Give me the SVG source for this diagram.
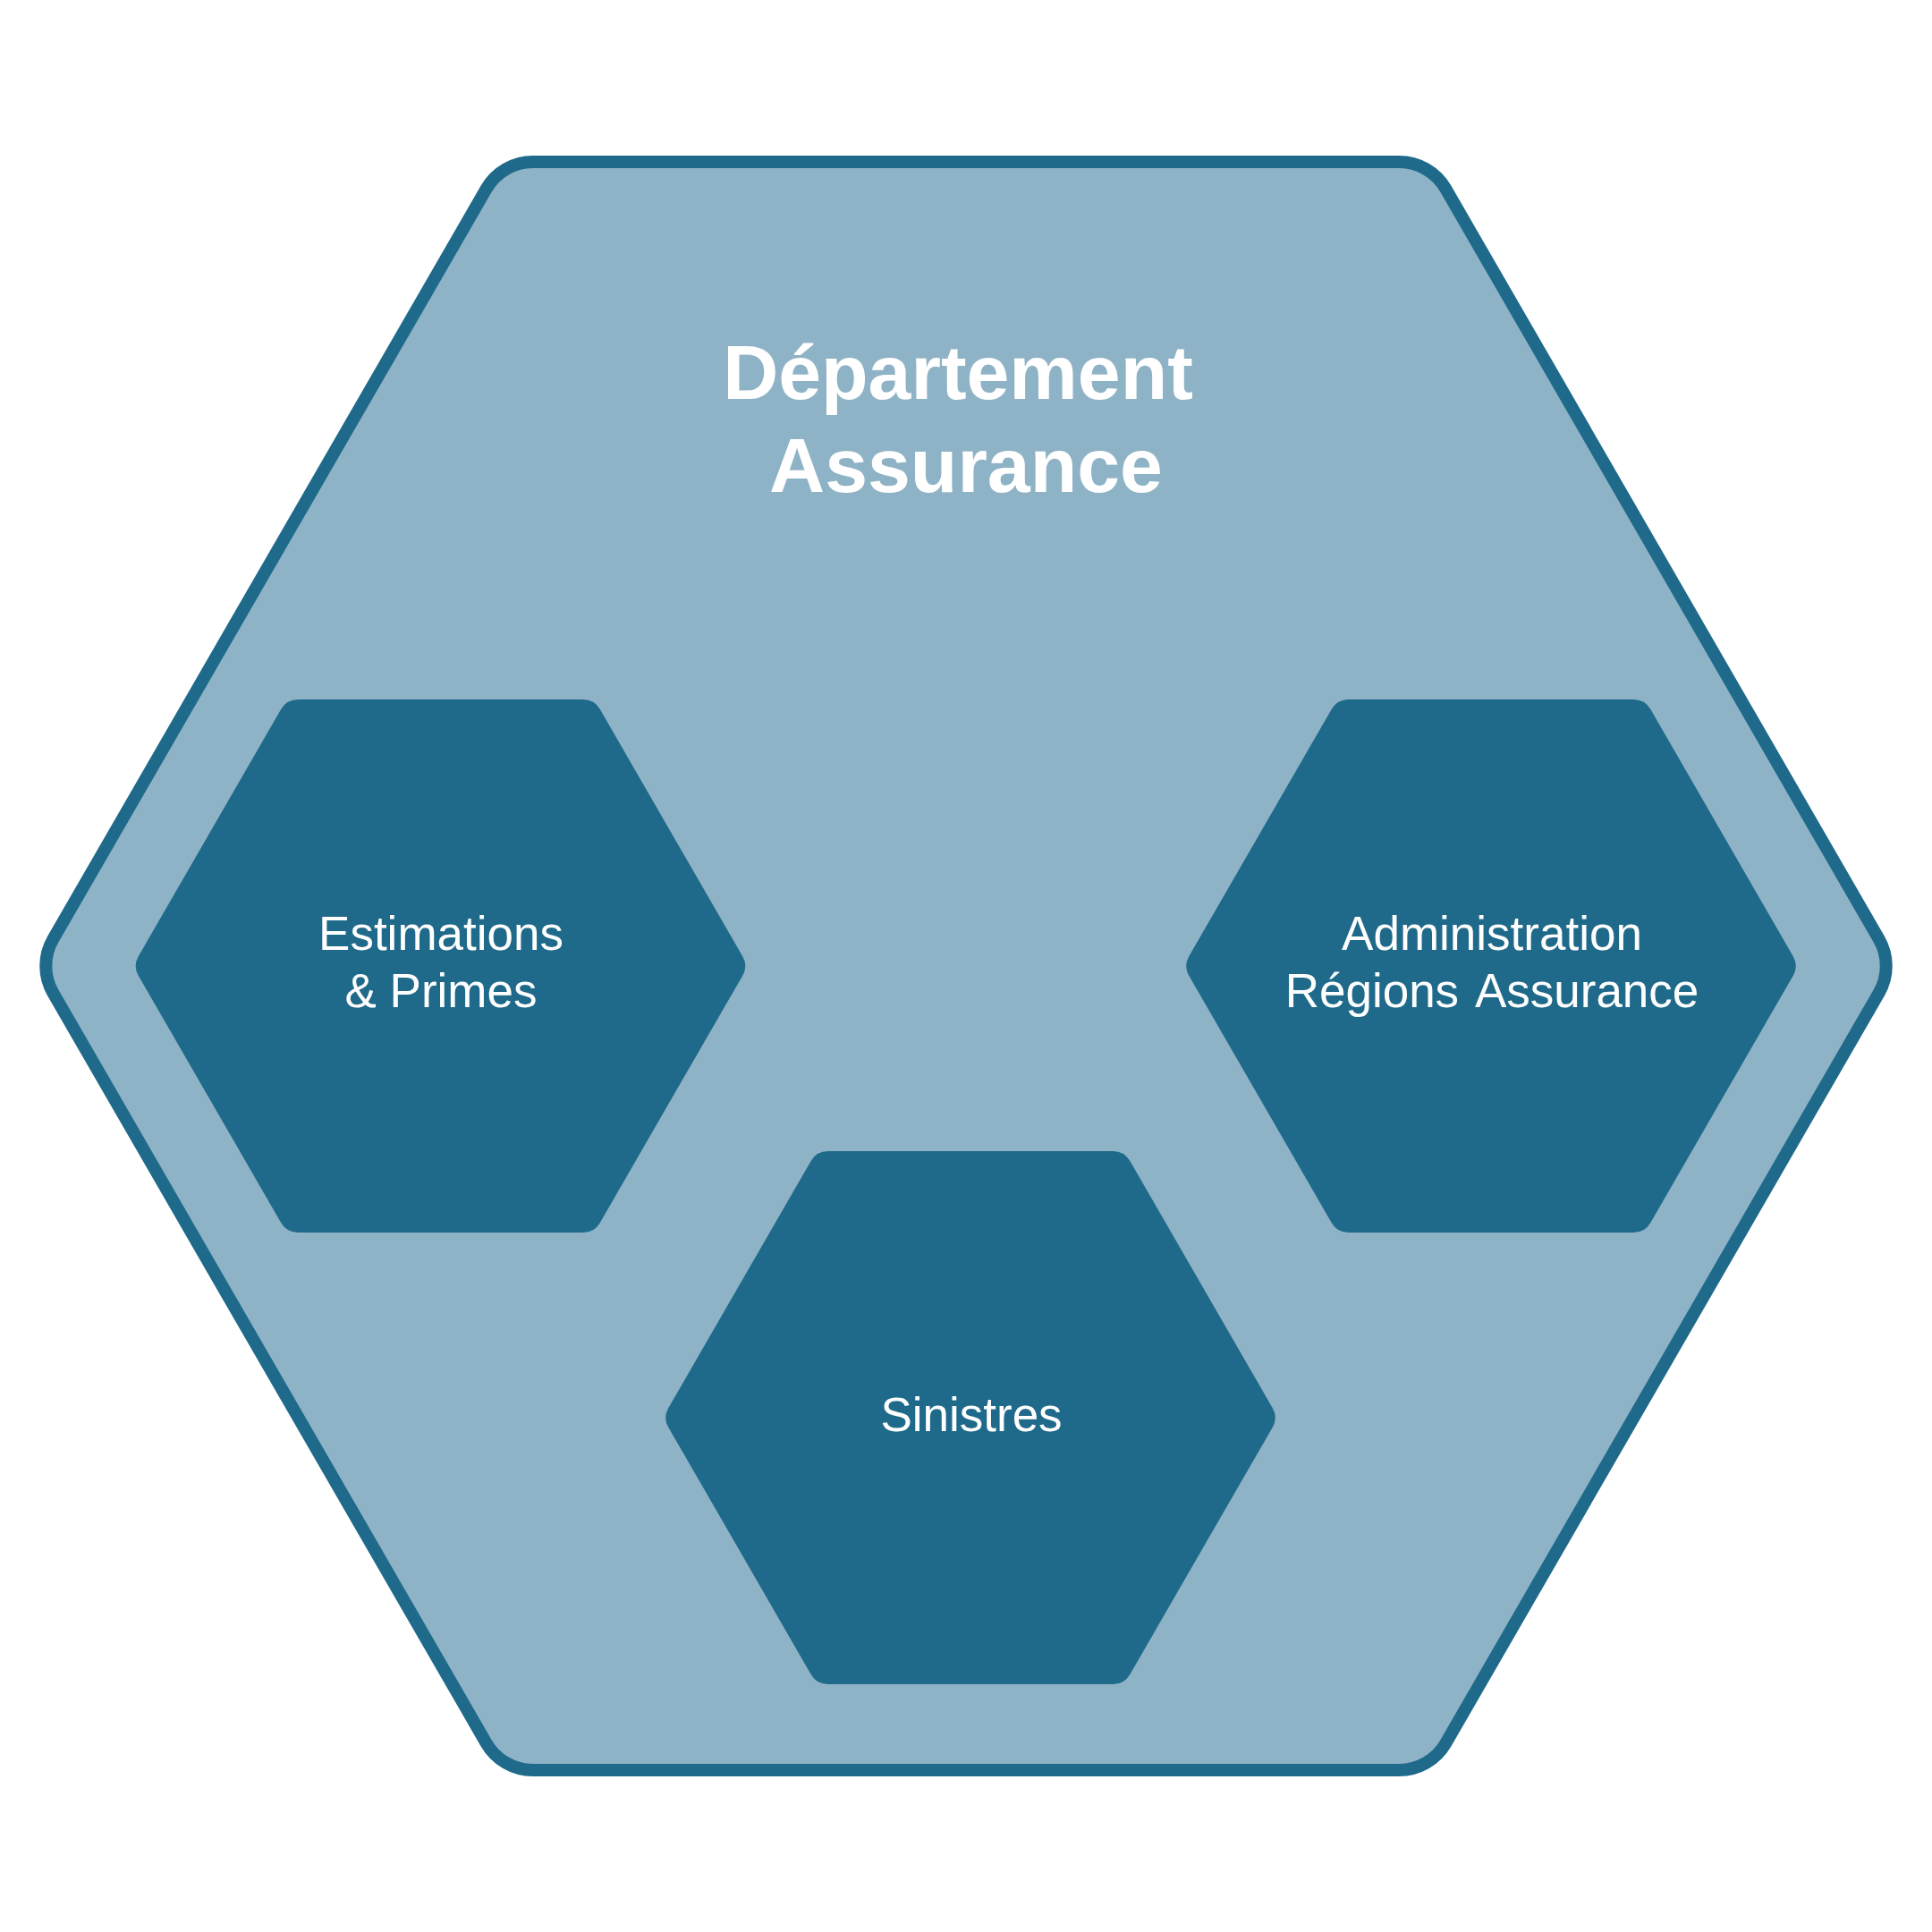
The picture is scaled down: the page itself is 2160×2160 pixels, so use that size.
<svg xmlns="http://www.w3.org/2000/svg" xmlns:xlink="http://www.w3.org/1999/xlink" width="2160" height="2160" viewBox="0 0 2160 2160">
  <style>
    .outer { fill: #8FB3C6; stroke: #1F6A8A; stroke-width: 14; }
    .inner { fill: #1F6A8A; }
    .title { font-family: "Liberation Sans", Arial, sans-serif; font-weight: bold; font-size: 86px; fill: #FFFFFF; text-anchor: middle; }
    .label { font-family: "Liberation Sans", Arial, sans-serif; font-size: 53px; fill: #FFFFFF; text-anchor: middle; }
  </style>
  <defs>
    <path id="hex" d="M -159.3,-297.9 L 159.3,-297.9 A 22 22 0 0 1 178.35,-286.9 L 337.65,-11 A 22 22 0 0 1 337.65,11 L 178.35,286.9 A 22 22 0 0 1 159.3,297.9 L -159.3,297.9 A 22 22 0 0 1 -178.35,286.9 L -337.65,11 A 22 22 0 0 1 -337.65,-11 L -178.35,-286.9 A 22 22 0 0 1 -159.3,-297.9 Z"/>
  </defs>
  <rect width="2160" height="2160" fill="#FFFFFF"/>
  <g id="departement-assurance">
    <path class="outer" d="M 595.6,181.1 L 1564.4,181.1 A 60 60 0 0 1 1616.3,211.1 L 2100.7,1050 A 60 60 0 0 1 2100.7,1110 L 1616.3,1948.9 A 60 60 0 0 1 1564.4,1978.9 L 595.6,1978.9 A 60 60 0 0 1 543.7,1948.9 L 59.3,1110 A 60 60 0 0 1 59.3,1050 L 543.7,211.1 A 60 60 0 0 1 595.6,181.1 Z"/>
    <text class="title" x="1071" y="446">Département</text>
    <text class="title" x="1080" y="550">Assurance</text>
  </g>
  <g id="estimations-primes">
    <use xlink:href="#hex" href="#hex" class="inner" x="492.5" y="1080"/>
    <text class="label" x="493" y="1062">Estimations</text>
    <text class="label" x="493" y="1126">&amp; Primes</text>
  </g>
  <g id="administration-regions">
    <use xlink:href="#hex" href="#hex" class="inner" x="1667" y="1080"/>
    <text class="label" x="1668" y="1062">Administration</text>
    <text class="label" x="1668" y="1126" word-spacing="6">Régions Assurance</text>
  </g>
  <g id="sinistres">
    <use xlink:href="#hex" href="#hex" class="inner" x="1085" y="1585"/>
    <text class="label" x="1086" y="1600">Sinistres</text>
  </g>
  <g id="connectors"/>
</svg>
